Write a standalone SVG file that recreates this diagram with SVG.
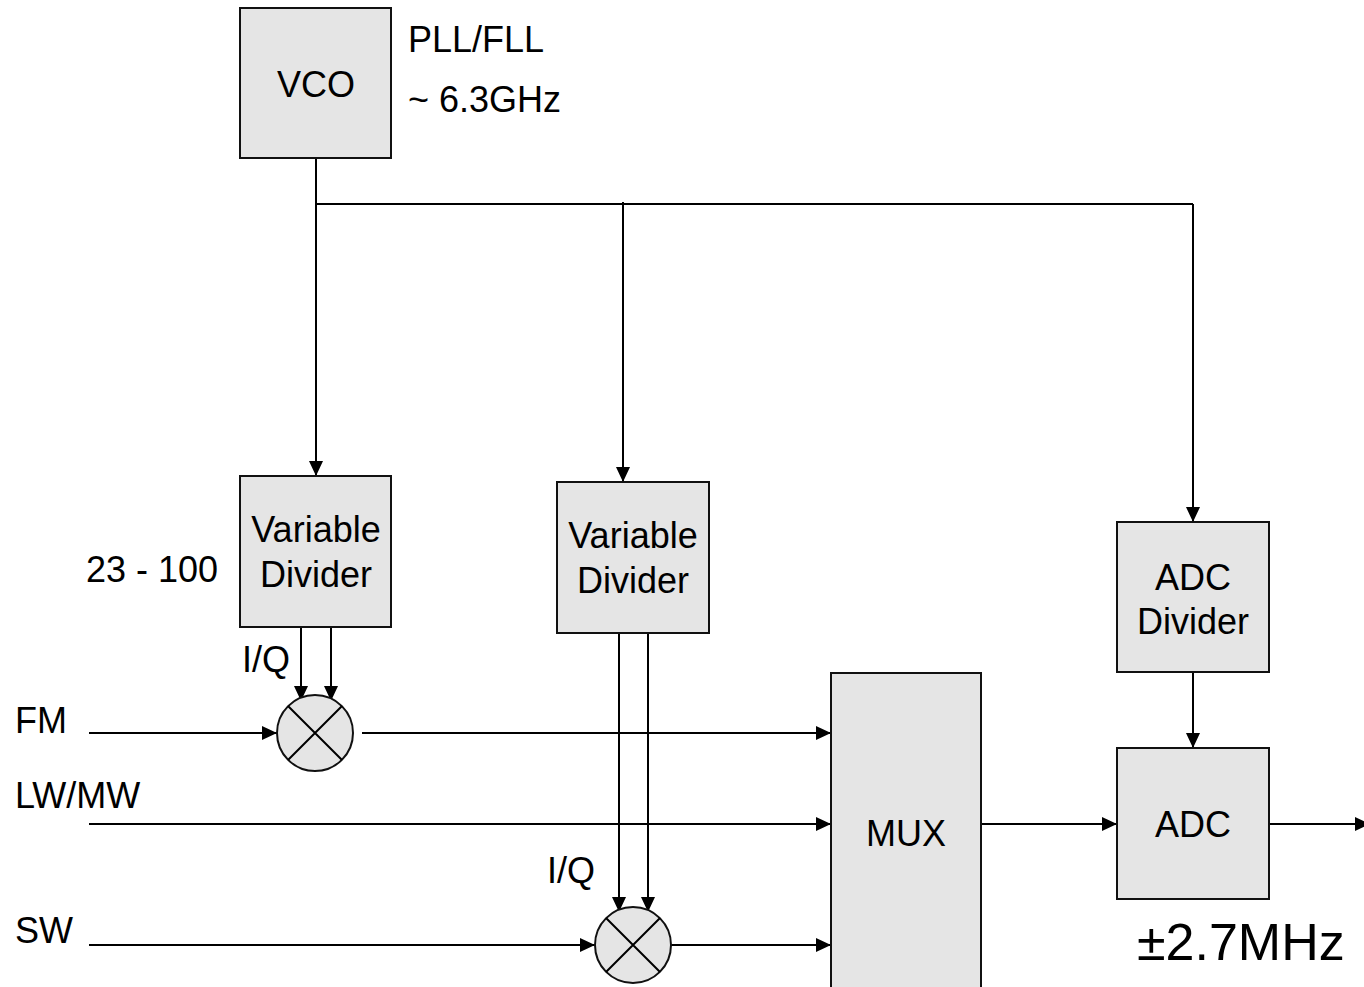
<svg xmlns="http://www.w3.org/2000/svg" width="1364" height="987" viewBox="0 0 1364 987">
<style>
.box{fill:#e5e5e5;stroke:#111;stroke-width:2}
.t{font-family:"Liberation Sans",Arial,sans-serif;font-size:36px;fill:#000}
.c{text-anchor:middle}
.ln{fill:none;stroke:#000;stroke-width:2}
.arr{marker-end:url(#ah)}
</style>
<defs>
<marker id="ah" markerUnits="userSpaceOnUse" markerWidth="15" markerHeight="14" viewBox="0 0 15 14" refX="15" refY="7" orient="auto">
<path d="M0,0 L15,7 L0,14 Z" fill="#000"/>
</marker>
</defs>
<rect width="1364" height="987" fill="#fff"/>
<g id="connectors">
<path class="ln" d="M316,158 V204 H1193"/>
<path class="ln arr" d="M316,204 V476"/>
<path class="ln arr" d="M623,202 V482"/>
<path class="ln arr" d="M1193,204 V522"/>
<path class="ln arr" d="M301,627 V701"/>
<path class="ln arr" d="M331,627 V701"/>
<path class="ln arr" d="M619,633 V912"/>
<path class="ln arr" d="M648,633 V912"/>
<path class="ln arr" d="M89,733 H277"/>
<path class="ln arr" d="M362,733 H831"/>
<path class="ln arr" d="M89,824 H831"/>
<path class="ln arr" d="M89,945 H595"/>
<path class="ln arr" d="M671,945 H831"/>
<path class="ln arr" d="M981,824 H1117"/>
<path class="ln arr" d="M1193,672 V748"/>
<path class="ln arr" d="M1269,824 H1370"/>
</g>
<g id="vco">
<rect class="box" x="240" y="8" width="151" height="150"/>
<text class="t c" x="316" y="97">VCO</text>
</g>
<g id="pll-label">
<text class="t" x="408" y="52">PLL/FLL</text>
<text class="t" x="408" y="112">~ 6.3GHz</text>
</g>
<g id="divider1">
<rect class="box" x="240" y="476" width="151" height="151"/>
<text class="t c" x="316" y="542">Variable</text>
<text class="t c" x="316" y="587">Divider</text>
</g>
<text class="t" x="86" y="582">23 - 100</text>
<g id="divider2">
<rect class="box" x="557" y="482" width="152" height="151"/>
<text class="t c" x="633" y="548">Variable</text>
<text class="t c" x="633" y="593">Divider</text>
</g>
<g id="adc-divider">
<rect class="box" x="1117" y="522" width="152" height="150"/>
<text class="t c" x="1193" y="590">ADC</text>
<text class="t c" x="1193" y="634">Divider</text>
</g>
<g id="adc">
<rect class="box" x="1117" y="748" width="152" height="151"/>
<text class="t c" x="1193" y="837">ADC</text>
</g>
<g id="mux">
<rect class="box" x="831" y="673" width="150" height="330"/>
<text class="t c" x="906" y="846">MUX</text>
</g>
<g id="mixer1">
<circle class="box" cx="315" cy="733" r="38"/>
<path class="ln" d="M288,706 L342,760 M342,706 L288,760"/>
</g>
<g id="mixer2">
<circle class="box" cx="633" cy="945" r="38"/>
<path class="ln" d="M606,918 L660,972 M660,918 L606,972"/>
</g>
<g id="labels">
<text class="t" x="242" y="672">I/Q</text>
<text class="t" x="547" y="883">I/Q</text>
<text class="t" x="15" y="733">FM</text>
<text class="t" x="15" y="808">LW/MW</text>
<text class="t" x="15" y="943">SW</text>
<text class="t" x="1137" y="960" style="font-size:52px">±2.7MHz</text>
</g>
</svg>
